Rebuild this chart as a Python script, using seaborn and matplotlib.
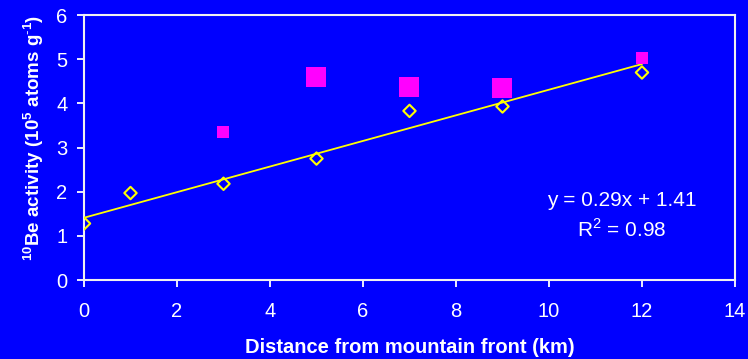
import matplotlib
matplotlib.use("Agg")
import matplotlib.pyplot as plt
import seaborn as sns
import numpy as np
import pandas as pd

# Data
diamond_x = [0, 1, 3, 5, 7, 9, 12]
diamond_y = [1.28, 1.97, 2.18, 2.75, 3.83, 3.93, 4.70]
small_sq_x = [3, 12]
small_sq_y = [3.35, 5.02]
large_sq_x = [5, 7, 9]
large_sq_y = [4.60, 4.37, 4.34]
trend_slope = 0.29
trend_intercept = 1.41
trend_x = [0, 12]
x_ticks = [0, 2, 4, 6, 8, 10, 12, 14]
y_ticks = [0, 1, 2, 3, 4, 5, 6]

sns.set_style("ticks")
plt.rcParams['font.family'] = ['Liberation Sans', 'DejaVu Sans']
plt.rcParams['mathtext.fontset'] = 'custom'
plt.rcParams['mathtext.rm'] = 'Liberation Sans'
plt.rcParams['mathtext.bf'] = 'Liberation Sans:bold'

BLUE = "#0000FF"
fig = plt.figure(figsize=(7.48, 3.59), dpi=100, facecolor=BLUE)
ax = fig.add_axes([0.1123, 0.22, 0.8703, 0.738])
ax.set_facecolor(BLUE)

trend_df = pd.DataFrame({"x": trend_x,
                         "y": [trend_slope * v + trend_intercept for v in trend_x]})
sns.lineplot(data=trend_df, x="x", y="y", ax=ax, color="#FFFF00", lw=1.3, zorder=2)

sns.scatterplot(x=small_sq_x, y=small_sq_y, ax=ax, marker="s", s=75,
                color="#FF00FF", edgecolor="#FF00FF", linewidth=0, zorder=3)
sns.scatterplot(x=large_sq_x, y=large_sq_y, ax=ax, marker="s", s=200,
                color="#FF00FF", edgecolor="#FF00FF", linewidth=0, zorder=3)
sns.scatterplot(x=diamond_x, y=diamond_y, ax=ax, marker="D", s=40,
                facecolor="none", edgecolor="#FFFF00", linewidth=1.5, zorder=4)

ax.set_xlim(0, 14)
ax.set_ylim(0, 6)
ax.set_xticks(x_ticks)
ax.set_yticks(y_ticks)
for sp in ax.spines.values():
    sp.set_color("#F0F0F0")
    sp.set_linewidth(1.5)
ax.tick_params(colors="white", labelcolor="white", labelsize=14.5, length=5, width=1.3,
               direction="out")
ax.tick_params(axis="x", pad=11)
ax.tick_params(axis="y", pad=7)

ax.set_xlabel("Distance from mountain front (km)", color="white", fontsize=14.5,
              fontweight="bold", labelpad=12)
ax.set_ylabel(r"$^{\mathbf{10}}$Be activity (10$^{\mathbf{5}}$ atoms g$^{\mathbf{\text{-}1}}$)",
              color="white", fontsize=13.5, fontweight="bold")
ax.yaxis.set_label_coords(-0.058, 0.535)

ax.text(11.57, 1.81, "y = 0.29x + 1.41", color="white", fontsize=15, ha="center", va="center")
ax.text(11.57, 1.15, r"R$^{2}$ = 0.98", color="white", fontsize=15, ha="center", va="center")

fig.savefig("out.png", dpi=100, facecolor=BLUE)
